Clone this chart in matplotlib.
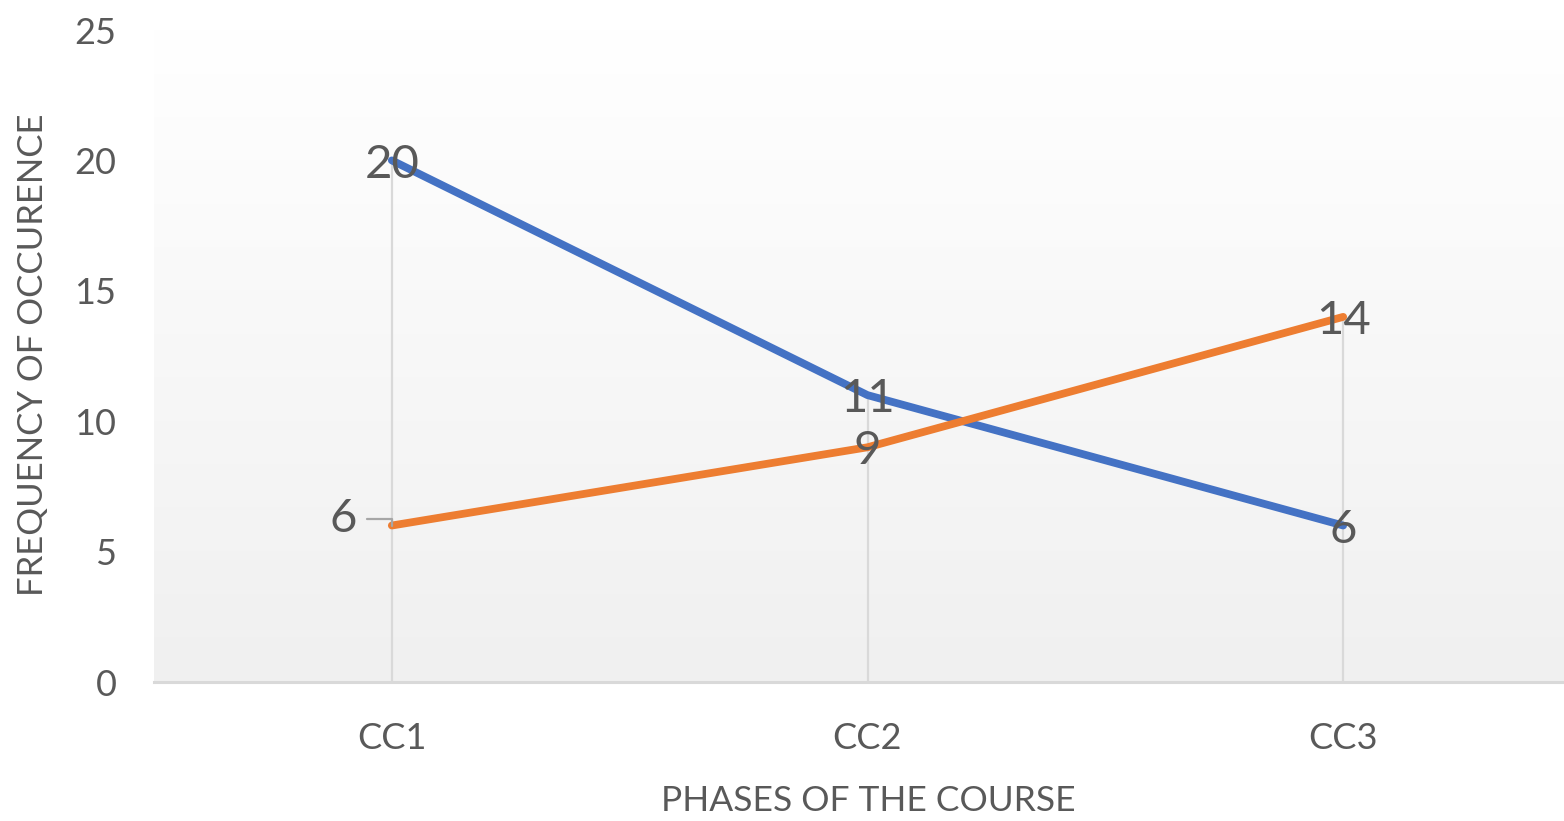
import numpy as np
import matplotlib
matplotlib.use("Agg")
import matplotlib.pyplot as plt

plt.rcParams['font.family'] = ['Lato', 'DejaVu Sans']

# Data
phases = ["CC1", "CC2", "CC3"]
series_blue = [20, 11, 6]
series_orange = [6, 9, 14]
y_ticks = [0, 5, 10, 15, 20, 25]

TEXT = "#595959"
GRID = "#d9d9d9"
BLUE = "#4472C4"
ORANGE = "#ED7D31"

W, H, DPI = 1564, 821, 100
fig = plt.figure(figsize=(W / DPI, H / DPI), dpi=DPI)
fig.patch.set_facecolor("white")

left, right, bottom, top = 154, 1581, 682, 30
ax = fig.add_axes([left / W, 1 - bottom / H, (right - left) / W, (bottom - top) / H])
ax.set_facecolor("none")

x = np.arange(len(phases))
ax.set_xlim(-0.5, len(phases) - 0.5)
ax.set_ylim(0, 25)

# Plot-area gradient: white at top fading to light grey at the bottom
grad = np.linspace(1.0, 0.0, 256).reshape(-1, 1)
top_c = np.array([1.0, 1.0, 1.0])
bot_c = np.array([240, 240, 240]) / 255
img = top_c * grad[..., None] + bot_c * (1 - grad[..., None])
img = img.reshape(256, 1, 3)
ax.imshow(img, extent=[-0.5, len(phases) - 0.5, 0, 25], aspect="auto",
          zorder=0, interpolation="bilinear")

# Drop lines from the highest point of each category to the axis
tops = np.maximum(series_blue, series_orange)
ax.vlines(x, 0, tops, colors=GRID, linewidth=1.6, zorder=1)

ax.plot(x, series_blue, color=BLUE, linewidth=5.6, solid_capstyle="round",
        solid_joinstyle="round", zorder=3)
ax.plot(x, series_orange, color=ORANGE, linewidth=5.6, solid_capstyle="round",
        solid_joinstyle="round", zorder=3)

# Data labels
lab_kw = dict(fontsize=34, color=TEXT, ha="center", va="center", zorder=4,
              textcoords="offset points", xytext=(0, -3))
for xi, v in zip(x, series_blue):
    ax.annotate(str(v), xy=(xi, v), **lab_kw)
for xi, v in zip(x, series_orange):
    if xi == 0:
        ax.annotate(str(v), xy=(xi, v), xytext=(-35, 5), textcoords="offset points",
                    fontsize=34, color=TEXT, ha="center", va="center", zorder=4,
                    arrowprops=dict(arrowstyle="-", color="#a6a6a6", lw=1.6,
                                    patchA=None, shrinkA=17, shrinkB=0,
                                    connectionstyle="angle,angleA=0,angleB=90,rad=0"))
    else:
        ax.annotate(str(v), xy=(xi, v), **lab_kw)

# Axes styling
for s in ["top", "right", "left"]:
    ax.spines[s].set_visible(False)
ax.spines["bottom"].set_color(GRID)
ax.spines["bottom"].set_linewidth(2.2)
ax.spines["bottom"].set_zorder(2)

ax.set_xticks(x)
ax.set_xticklabels(phases)
ax.set_yticks(y_ticks)
ax.tick_params(axis="both", length=0, labelsize=26, labelcolor=TEXT)
ax.tick_params(axis="x", pad=29)
ax.tick_params(axis="y", pad=27)

fig.text(868 / W, 1 - 801 / H, "PHASES OF THE COURSE", fontsize=25.5, color=TEXT,
         ha="center", va="center")
fig.text(33 / W, 1 - 355 / H, "FREQUENCY OF OCCURENCE", fontsize=25, color=TEXT,
         ha="center", va="center", rotation=90)

fig.savefig("out.png", dpi=DPI, facecolor="white")
